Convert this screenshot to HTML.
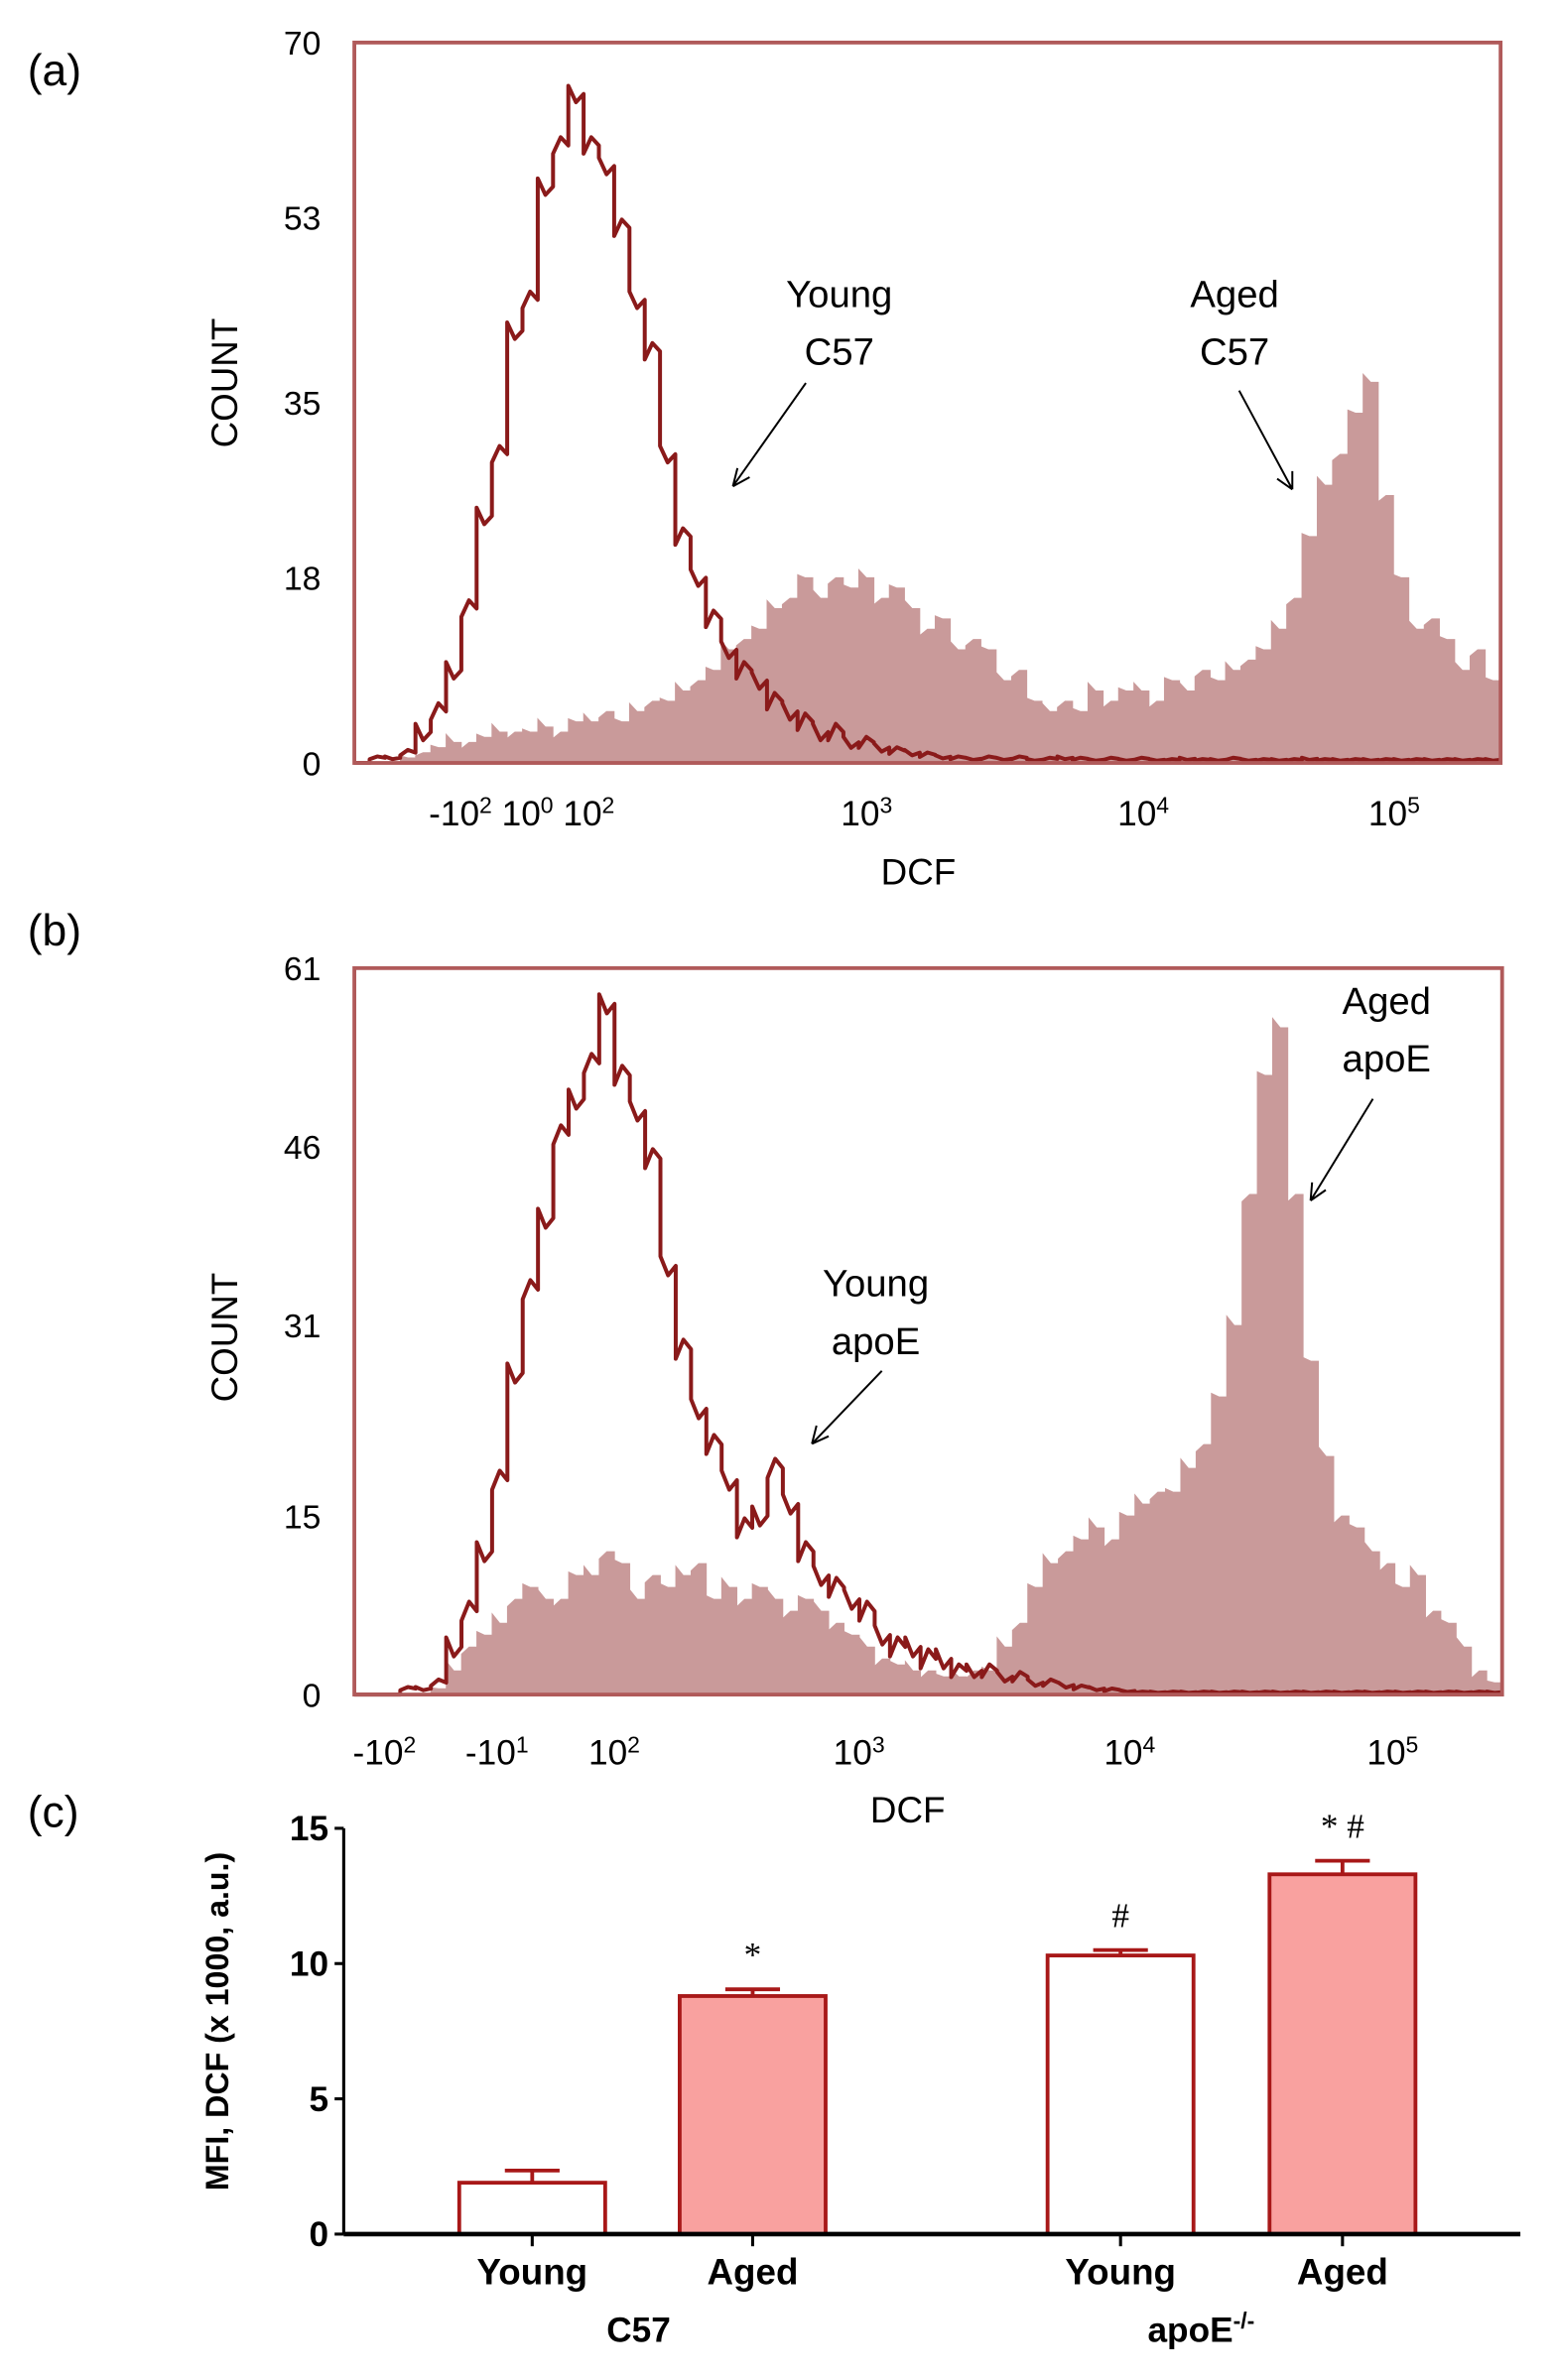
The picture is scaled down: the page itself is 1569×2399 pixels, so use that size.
<!DOCTYPE html>
<html><head><meta charset="utf-8"><style>
html,body{margin:0;padding:0;background:#fff;}
svg{display:block;font-family:"Liberation Sans",sans-serif;}
</style></head><body>
<svg id="fig" width="1569" height="2399" viewBox="0 0 1024 1566" xmlns="http://www.w3.org/2000/svg">
<g id="pa"></g>
<g id="pb"></g>
<g id="pc"></g>
</svg>
<script>
// Panel (a) histogram counts per channel (75 channels)
const aYoung=[0,0.5,0.5,1,3,5,9,15,24,30,42,45,56,60,65,60,58,52,45,40,30,22,18,14,11,9,8,6,5,4,3,3,2,2,1.5,1.2,1,0.8,0.6,0.5,0.4,0.5,0.4,0.5,0.3,0.4,0.5,0.4,0.3,0.4,0.3,0.4,0.3,0.3,0.4,0.3,0.3,0.4,0.3,0.3,0.3,0.3,0.4,0.3,0.3,0.3,0.3,0.3,0.3,0.3,0.3,0.3,0.3,0.3,0.3];
const aAged=[0,0,0,0.5,1,1.5,2,2,2.5,3,3,3,3.5,3,4,4,5,4,5,6,6,7,8,9,11,12,13,15,16,18,16,18,17,18,16,17,15,13,14,11,12,11,8,9,6,5,6,5,7,6,7,7,6,8,7,9,8,9,10,11,13,16,22,27,30,34,37,26,18,13,14,12,9,11,8];
// Panel (b)
const bYoung=[0,0,0,0.5,0.5,1,4,7,12,18,27,34,40,47,50,53,58,52,49,45,36,29,24,21,18,14,15,19,16,12,10,9,8,7,5,4,4,3,3,2,2,2,1.5,1.5,1,1,0.8,0.6,0.5,0.4,0.3,0.2,0.2,0.2,0.2,0.2,0.2,0.2,0.2,0.2,0.2,0.2,0.2,0.2,0.2,0.2,0.2,0.2,0.2,0.2,0.2,0.2,0.2,0.2,0.2];
const bAged=[0,0,0,0,0,0.5,2,4,5,6,8,9,8,8,10,10,12,11,8,10,9,10,11,8,9,8,9,8,7,8,7,6,5,4,3,2.5,2,2,1.5,1.5,2,2,4,6,9,11,12,13,14,13,15,16,17,17,19,21,25,31,42,52,56,42,28,20,15,14,12,11,9,10,7,6,4,2,1];
// Panel (c)
const cats=["Young","Aged","Young","Aged"];
const means=[1.9,8.8,10.3,13.3];
const sems=[0.45,0.25,0.2,0.5];
const fills=["#ffffff","#f9a19f","#ffffff","#f9a19f"];
const marks=["","*","#","* #"];
const cTicks=[0,5,10,15];

const NS="http://www.w3.org/2000/svg";
function mk(p,tag,attrs,txt){const e=document.createElementNS(NS,tag);for(const k in attrs)e.setAttribute(k,attrs[k]);if(txt!==undefined)e.textContent=txt;p.appendChild(e);return e;}

function hist(g,opt){
  const {x0,x1,y0,y1,ymax,young,aged,yt}=opt;
  const n=young.length,w=(x1-x0)/n;
  const sy=v=>y1-v/ymax*(y1-y0);
  let d=`M${x0} ${y1}`;
  aged.forEach((v,i)=>{const jit=(i%3===0?0.4:(i%3===1?-0.3:0.15));d+=` L${x0+i*w} ${sy(Math.max(0,v+jit*Math.min(v,2)))} L${x0+(i+0.5)*w} ${sy(v)} L${x0+(i+1)*w} ${sy(v)}`;});
  d+=` L${x1} ${y1} Z`;
  const fa=mk(g,"path",{d:d,fill:"#c99a9a",stroke:"#c99a9a","stroke-width":0.5});
  
  
  let d2=`M${x0} ${y1}`;
  young.forEach((v,i)=>{const jit=(i%2===0?0.8:-0.8)*Math.min(v,3)/3;d2+=` L${x0+i*w} ${sy(v+jit)} L${x0+(i+0.5)*w} ${sy(v-jit)} L${x0+(i+1)*w} ${sy(v)}`;});
  const ly=mk(g,"path",{d:d2,fill:"none",stroke:"#8a1a1a","stroke-width":2.6,"stroke-linejoin":"round"});
  
  
  const fr=mk(g,"rect",{x:x0,y:y0,width:x1-x0,height:y1-y0,fill:"none",stroke:"#b05a5a","stroke-width":2.5});
  
  
  yt.forEach(t=>{const e=mk(g,"text",{x:x0-22,y:sy(t)+8,"text-anchor":"end","font-size":22},String(t));
    
    });
}

const pa=document.getElementById("pa");
hist(pa,{x0:233,x1:987,y0:28,y1:502,ymax:70,young:aYoung,aged:aAged,yt:[0,18,35,53,70]});
const pb=document.getElementById("pb");
hist(pb,{x0:233,x1:988,y0:637,y1:1115,ymax:61,young:bYoung,aged:bAged,yt:[0,15,31,46,61]});

function txt(g,name,x,y,s,size,extra){const e=mk(g,"text",Object.assign({x:x,y:y,"font-size":size},extra||{}));e.innerHTML=s;return e;}
// panel a labels
txt(pa,"panel-label",18,56,"(a)",29);
txt(pa,"y-axis-title",0,0,"COUNT",24,{transform:"translate(156,252) rotate(-90)","text-anchor":"middle"});
txt(pa,"x-tick-labels",282,543,'-10<tspan dy="-8" font-size="15">2</tspan><tspan dy="8"> 10</tspan><tspan dy="-8" font-size="15">0</tspan><tspan dy="8">  10</tspan><tspan dy="-8" font-size="15">2</tspan>',23);
txt(pa,"x-tick-1e3",553,543,'10<tspan dy="-8" font-size="15">3</tspan>',23);
txt(pa,"x-tick-1e4",735,543,'10<tspan dy="-8" font-size="15">4</tspan>',23);
txt(pa,"x-tick-1e5",900,543,'10<tspan dy="-8" font-size="15">5</tspan>',23);
txt(pa,"x-axis-title",604,582,"DCF",24,{"text-anchor":"middle"});
txt(pa,"young-label",552,202,"Young",25,{"text-anchor":"middle"});
txt(pa,"young-label",552,240,"C57",25,{"text-anchor":"middle"});
txt(pa,"aged-label",812,202,"Aged",25,{"text-anchor":"middle"});
txt(pa,"aged-label",812,240,"C57",25,{"text-anchor":"middle"});
mk(pa,"path",{d:"M530 252 L482 320 M482 320 l3 -12 M482 320 l11 -6",stroke:"#000","stroke-width":1.3,fill:"none"});
mk(pa,"path",{d:"M815 257 L850 322 M850 322 l-10 -7 M850 322 l0 -12",stroke:"#000","stroke-width":1.3,fill:"none"});
// panel b labels
txt(pb,"panel-label",18,622,"(b)",29);
txt(pb,"y-axis-title",0,0,"COUNT",24,{transform:"translate(156,880) rotate(-90)","text-anchor":"middle"});
[["-10","2",232],["-10","1",306],["10","2",387],["10","3",548],["10","4",726],["10","5",899]].forEach(a=>txt(pb,"x-tick-label",a[2],1161,a[0]+'<tspan dy="-8" font-size="15">'+a[1]+'</tspan>',23));
txt(pb,"x-axis-title",597,1199,"DCF",24,{"text-anchor":"middle"});
txt(pb,"young-label",576,853,"Young",25,{"text-anchor":"middle"});
txt(pb,"young-label",576,891,"apoE",25,{"text-anchor":"middle"});
txt(pb,"aged-label",912,667,"Aged",25,{"text-anchor":"middle"});
txt(pb,"aged-label",912,705,"apoE",25,{"text-anchor":"middle"});
mk(pb,"path",{d:"M580 902 L534 950 M534 950 l3 -12 M534 950 l11 -5",stroke:"#000","stroke-width":1.3,fill:"none"});
mk(pb,"path",{d:"M903 723 L862 790 M862 790 l1 -12 M862 790 l10 -7",stroke:"#000","stroke-width":1.3,fill:"none"});

// panel c
const pc=document.getElementById("pc");
const cx0=226,cy0=1470,cyTop=1203,cmax=15;
const ys=v=>cy0-v/cmax*(cy0-cyTop);
const barX=[302,447,689,835],bw=96;
txt(pc,"panel-label",18,1202,"(c)",29);
txt(pc,"y-axis-title",0,0,"MFI, DCF (x 1000, a.u.)",21,{transform:"translate(150,1330) rotate(-90)","text-anchor":"middle","font-weight":"bold"});
cTicks.forEach(t=>{const l=mk(pc,"line",{x1:cx0-6,x2:cx0,y1:ys(t),y2:ys(t),stroke:"#000","stroke-width":2});
  
  
  txt(pc,"y-tick-label",cx0-10,ys(t)+8,String(t),23,{"text-anchor":"end","font-weight":"bold"});});
means.forEach((m,i)=>{
  const x=barX[i];
  const r=mk(pc,"rect",{x:x,y:ys(m),width:bw,height:cy0-ys(m),fill:fills[i],stroke:"#a81818","stroke-width":2.5});
  
  
  const cxm=x+bw/2,te=ys(m+sems[i]);
  const eb=mk(pc,"path",{d:`M${cxm} ${ys(m)} L${cxm} ${te} M${cxm-18} ${te} L${cxm+18} ${te}`,stroke:"#a81818","stroke-width":2.5,fill:"none"});
  
  
  if(marks[i])txt(pc,"significance-mark",cxm,te-15,marks[i],23,{"text-anchor":"middle","font-family":"Liberation Serif"});
  const tk=mk(pc,"line",{x1:cxm,x2:cxm,y1:cy0,y2:cy0+8,stroke:"#000","stroke-width":2});
  
  
  txt(pc,"x-tick-label",cxm,1503,cats[i],24,{"text-anchor":"middle","font-weight":"bold"});
});
const ya=mk(pc,"line",{x1:cx0,x2:cx0,y1:cyTop,y2:cy0,stroke:"#000","stroke-width":2});


const xa=mk(pc,"line",{x1:cx0,x2:1000,y1:cy0,y2:cy0,stroke:"#000","stroke-width":3});


txt(pc,"group-label-c57",420,1541,"C57",23,{"text-anchor":"middle","font-weight":"bold"});
txt(pc,"group-label-apoe",790,1541,'apoE<tspan dy="-9" font-size="15">-/-</tspan>',23,{"text-anchor":"middle","font-weight":"bold"});
</script>
</body></html>
